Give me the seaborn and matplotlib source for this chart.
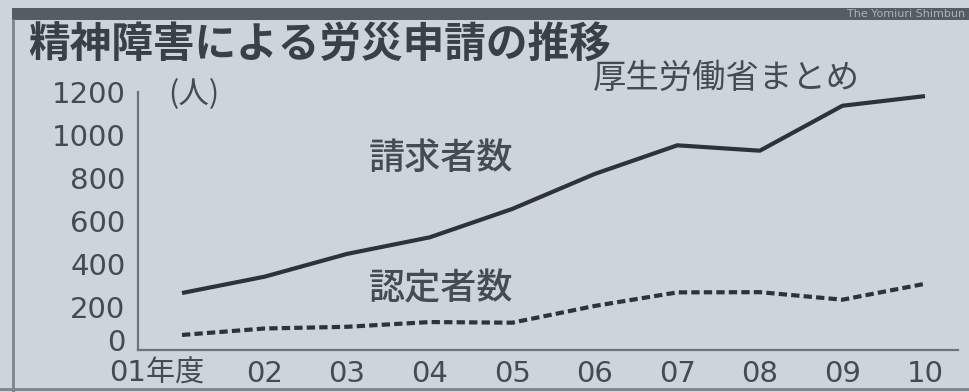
import matplotlib
matplotlib.use("Agg")
import matplotlib.pyplot as plt
from matplotlib.patches import Rectangle
from matplotlib.lines import Line2D
from matplotlib.transforms import ScaledTranslation
import seaborn as sns
import pandas as pd

# ---- data ----
years = ["01年度", "02", "03", "04", "05", "06", "07", "08", "09", "10"]
claims = [265, 341, 447, 524, 656, 819, 952, 927, 1136, 1181]        # 請求者数
approved = [70, 100, 108, 130, 127, 205, 268, 269, 234, 308]          # 認定者数
yticks = [0, 200, 400, 600, 800, 1000, 1200]

title = "精神障害による労災申請の推移"
subtitle = "厚生労働省まとめ"
unit = "(人)"
label_claims = "請求者数"
label_approved = "認定者数"
credit = "The Yomiuri Shimbun"

sns.set_style("white")
JP = ["Noto Sans CJK JP", "DejaVu Sans"]
MIX = ["DejaVu Sans", "Noto Sans CJK JP"]
plt.rcParams["font.family"] = MIX

bg = "#cdd4db"
ink = "#454b53"
line_c = "#2e333a"

fig = plt.figure(figsize=(9.70, 3.92), dpi=100, facecolor=bg)
ax = fig.add_axes([138 / 970, 1 - 350 / 392, 820 / 970, 258 / 392])
ax.set_facecolor(bg)

df = pd.DataFrame({"x": list(range(len(years))) * 2,
                   "value": claims + approved,
                   "series": [label_claims] * len(years) + [label_approved] * len(years)})

sns.lineplot(data=df[df.series == label_claims], x="x", y="value", ax=ax,
             color=line_c, linewidth=3.0, legend=False)
sns.lineplot(data=df[df.series == label_approved], x="x", y="value", ax=ax,
             color=line_c, linewidth=3.0, legend=False)
ax.lines[1].set_dashes([2.0, 1.0])
ax.lines[0].set_solid_capstyle("butt")

ax.set_xlim(-0.533, 9.40)
ax.set_ylim(0, 1200)
ax.set_xlabel("")
ax.set_ylabel("")

for s in ["top", "right"]:
    ax.spines[s].set_visible(False)
for s in ["left", "bottom"]:
    ax.spines[s].set_color("#6c737b")
    ax.spines[s].set_linewidth(1.6)

ax.set_yticks(yticks)
ax.set_yticklabels([str(v) for v in yticks])
ax.set_xticks(range(len(years)))
ax.set_xticklabels(years)
ax.tick_params(axis="y", direction="in", length=14, width=1.2, color="#868d95",
               pad=9, labelsize=21, labelcolor=ink)
ax.tick_params(axis="x", direction="in", length=6, width=1.2, color="#868d95",
               pad=7, labelsize=21, labelcolor=ink)
for lbl in ax.get_xticklabels() + ax.get_yticklabels():
    lbl.set_fontfamily(MIX)
first = ax.get_xticklabels()[0]
first.set_transform(first.get_transform() + ScaledTranslation(-0.25, 0, fig.dpi_scale_trans))
zero = ax.get_yticklabels()[0]
zero.set_transform(zero.get_transform() + ScaledTranslation(0, 0.10, fig.dpi_scale_trans))

# series labels
ax.text(3.14, 888, label_claims, ha="center", va="center", fontsize=26,
        color=ink, family=JP, fontweight="medium")
ax.text(3.14, 284, label_approved, ha="center", va="center", fontsize=26,
        color=ink, family=JP, fontweight="medium")

# unit
fig.text(168 / 970, 1 - 95 / 392, unit, ha="left", va="center", fontsize=22,
         color=ink, family=JP)

# title & subtitle
fig.text(28 / 970, 1 - 46 / 392, title, ha="left", va="center", fontsize=30,
         color="#3a4047", family=JP, fontweight="bold")
fig.text(860 / 970, 1 - 78 / 392, subtitle, ha="right", va="center", fontsize=24,
         color=ink, family=JP)

# frame decorations
fig.patches.append(Rectangle((12 / 970, 1 - 20 / 392), 958 / 970, 12 / 392,
                             transform=fig.transFigure, facecolor="#565c64",
                             edgecolor="none"))
fig.text(965 / 970, 1 - 14 / 392, credit, ha="right", va="center", fontsize=8,
         color="#aab1b8", family=MIX)
fig.lines.append(Line2D([13 / 970, 13 / 970], [0, 1 - 20 / 392], transform=fig.transFigure,
                        color="#7d848c", linewidth=2))
fig.lines.append(Line2D([0, 1], [1 - 389 / 392, 1 - 389 / 392], transform=fig.transFigure,
                        color="#7d848c", linewidth=2))

fig.savefig("out.png", dpi=100, facecolor=bg)
